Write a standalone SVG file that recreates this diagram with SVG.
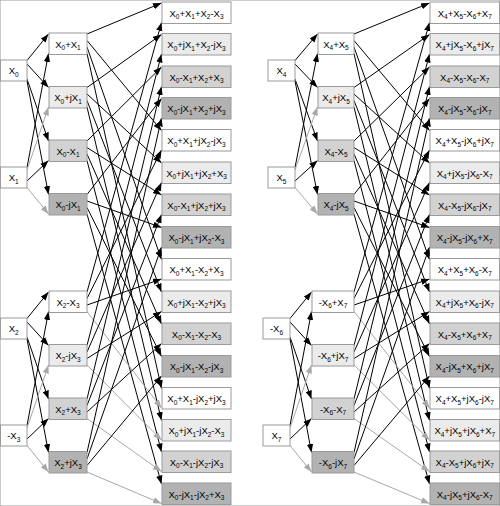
<svg xmlns="http://www.w3.org/2000/svg" width="500" height="506" viewBox="0 0 500 506">
<style>
text{font-family:"Liberation Sans",Arial,sans-serif;font-size:9.5px;fill:#000;text-anchor:middle}
.s{font-size:6.5px}
rect{stroke:#9a9a9a;stroke-width:1}
.w{fill:#fff}.l{fill:#ebebeb}.m{fill:#d2d2d2}.d{fill:#b2b2b2}
.a{stroke:#000;stroke-width:1;marker-end:url(#ab)}
.g{stroke:#a8a8a8;stroke-width:1;marker-end:url(#ag)}
</style>
<defs>
<marker id="ab" markerUnits="userSpaceOnUse" markerWidth="9" markerHeight="7" refX="8.5" refY="3.5" orient="auto"><path d="M0,0.3 L8.5,3.5 L0,6.7 z" fill="#000"/></marker>
<marker id="ag" markerUnits="userSpaceOnUse" markerWidth="9" markerHeight="7" refX="8.5" refY="3.5" orient="auto"><path d="M0,0.3 L8.5,3.5 L0,6.7 z" fill="#a8a8a8"/></marker>
</defs>
<rect x="0" y="0" width="500" height="506" fill="#fff" stroke="none"/>
<g id="connectors">
<line class="a" x1="27" y1="60.5" x2="48.5" y2="34"/>
<line class="a" x1="27" y1="64" x2="48.5" y2="87.5"/>
<line class="a" x1="27" y1="79" x2="48.5" y2="141"/>
<line class="a" x1="27" y1="81" x2="48.5" y2="194.5"/>
<line class="a" x1="27" y1="167.5" x2="48.5" y2="53.5"/>
<line class="g" x1="27" y1="170" x2="48.5" y2="107"/>
<line class="a" x1="27" y1="181" x2="48.5" y2="160.5"/>
<line class="g" x1="27" y1="187.5" x2="48.5" y2="214"/>
<line class="a" x1="27" y1="318.5" x2="48.5" y2="292"/>
<line class="a" x1="27" y1="322" x2="48.5" y2="345.5"/>
<line class="a" x1="27" y1="337" x2="48.5" y2="399"/>
<line class="a" x1="27" y1="339" x2="48.5" y2="452.5"/>
<line class="a" x1="27" y1="425.5" x2="48.5" y2="311.5"/>
<line class="g" x1="27" y1="428" x2="48.5" y2="365"/>
<line class="a" x1="27" y1="439" x2="48.5" y2="418.5"/>
<line class="g" x1="27" y1="445.5" x2="48.5" y2="472"/>
<line class="a" x1="87" y1="34" x2="161.5" y2="3"/>
<line class="a" x1="87" y1="40.5" x2="161.5" y2="130.5"/>
<line class="a" x1="87" y1="47" x2="161.5" y2="259.5"/>
<line class="a" x1="87" y1="53.5" x2="161.5" y2="388.5"/>
<line class="a" x1="87" y1="87.5" x2="161.5" y2="34.5"/>
<line class="a" x1="87" y1="94" x2="161.5" y2="163"/>
<line class="a" x1="87" y1="100.5" x2="161.5" y2="292"/>
<line class="a" x1="87" y1="107" x2="161.5" y2="420.5"/>
<line class="a" x1="87" y1="141" x2="161.5" y2="67"/>
<line class="a" x1="87" y1="147.5" x2="161.5" y2="195"/>
<line class="a" x1="87" y1="154" x2="161.5" y2="324"/>
<line class="a" x1="87" y1="160.5" x2="161.5" y2="452"/>
<line class="a" x1="87" y1="194.5" x2="161.5" y2="98.5"/>
<line class="a" x1="87" y1="201" x2="161.5" y2="227.5"/>
<line class="a" x1="87" y1="207.5" x2="161.5" y2="356.5"/>
<line class="a" x1="87" y1="214" x2="161.5" y2="484"/>
<line class="a" x1="87" y1="292" x2="161.5" y2="22.5"/>
<line class="a" x1="87" y1="298.5" x2="161.5" y2="150"/>
<line class="a" x1="87" y1="305" x2="161.5" y2="279"/>
<line class="g" x1="87" y1="311.5" x2="161.5" y2="408"/>
<line class="a" x1="87" y1="345.5" x2="161.5" y2="54"/>
<line class="a" x1="87" y1="352" x2="161.5" y2="182.5"/>
<line class="a" x1="87" y1="358.5" x2="161.5" y2="311.5"/>
<line class="g" x1="87" y1="365" x2="161.5" y2="440"/>
<line class="a" x1="87" y1="399" x2="161.5" y2="86.5"/>
<line class="a" x1="87" y1="405.5" x2="161.5" y2="214.5"/>
<line class="a" x1="87" y1="412" x2="161.5" y2="343.5"/>
<line class="g" x1="87" y1="418.5" x2="161.5" y2="471.5"/>
<line class="a" x1="87" y1="452.5" x2="161.5" y2="118"/>
<line class="a" x1="87" y1="459" x2="161.5" y2="247"/>
<line class="a" x1="87" y1="465.5" x2="161.5" y2="376"/>
<line class="g" x1="87" y1="472" x2="161.5" y2="503.5"/>
<line class="a" x1="295" y1="60.5" x2="317.5" y2="34"/>
<line class="a" x1="295" y1="64" x2="317.5" y2="87.5"/>
<line class="a" x1="295" y1="79" x2="317.5" y2="141"/>
<line class="a" x1="295" y1="81" x2="317.5" y2="194.5"/>
<line class="a" x1="295" y1="167.5" x2="317.5" y2="53.5"/>
<line class="g" x1="295" y1="170" x2="317.5" y2="107"/>
<line class="a" x1="295" y1="181" x2="317.5" y2="160.5"/>
<line class="g" x1="295" y1="187.5" x2="317.5" y2="214"/>
<line class="a" x1="290" y1="318.5" x2="311.5" y2="292"/>
<line class="a" x1="290" y1="322" x2="311.5" y2="345.5"/>
<line class="a" x1="290" y1="337" x2="311.5" y2="399"/>
<line class="a" x1="290" y1="339" x2="311.5" y2="452.5"/>
<line class="a" x1="290" y1="425.5" x2="311.5" y2="311.5"/>
<line class="g" x1="290" y1="428" x2="311.5" y2="365"/>
<line class="a" x1="290" y1="439" x2="311.5" y2="418.5"/>
<line class="g" x1="290" y1="445.5" x2="311.5" y2="472"/>
<line class="a" x1="354" y1="34" x2="429.5" y2="3"/>
<line class="a" x1="354" y1="40.5" x2="429.5" y2="130.5"/>
<line class="a" x1="354" y1="47" x2="429.5" y2="259.5"/>
<line class="a" x1="354" y1="53.5" x2="429.5" y2="388.5"/>
<line class="a" x1="354" y1="87.5" x2="429.5" y2="34.5"/>
<line class="a" x1="354" y1="94" x2="429.5" y2="163"/>
<line class="a" x1="354" y1="100.5" x2="429.5" y2="292"/>
<line class="a" x1="354" y1="107" x2="429.5" y2="420.5"/>
<line class="a" x1="354" y1="141" x2="429.5" y2="67"/>
<line class="a" x1="354" y1="147.5" x2="429.5" y2="195"/>
<line class="a" x1="354" y1="154" x2="429.5" y2="324"/>
<line class="a" x1="354" y1="160.5" x2="429.5" y2="452"/>
<line class="a" x1="354" y1="194.5" x2="429.5" y2="98.5"/>
<line class="a" x1="354" y1="201" x2="429.5" y2="227.5"/>
<line class="a" x1="354" y1="207.5" x2="429.5" y2="356.5"/>
<line class="a" x1="354" y1="214" x2="429.5" y2="484"/>
<line class="a" x1="354" y1="292" x2="429.5" y2="22.5"/>
<line class="a" x1="354" y1="298.5" x2="429.5" y2="150"/>
<line class="a" x1="354" y1="305" x2="429.5" y2="279"/>
<line class="g" x1="354" y1="311.5" x2="429.5" y2="408"/>
<line class="a" x1="354" y1="345.5" x2="429.5" y2="54"/>
<line class="a" x1="354" y1="352" x2="429.5" y2="182.5"/>
<line class="a" x1="354" y1="358.5" x2="429.5" y2="311.5"/>
<line class="g" x1="354" y1="365" x2="429.5" y2="440"/>
<line class="a" x1="354" y1="399" x2="429.5" y2="86.5"/>
<line class="a" x1="354" y1="405.5" x2="429.5" y2="214.5"/>
<line class="a" x1="354" y1="412" x2="429.5" y2="343.5"/>
<line class="g" x1="354" y1="418.5" x2="429.5" y2="471.5"/>
<line class="a" x1="354" y1="452.5" x2="429.5" y2="118"/>
<line class="a" x1="354" y1="459" x2="429.5" y2="247"/>
<line class="a" x1="354" y1="465.5" x2="429.5" y2="376"/>
<line class="g" x1="354" y1="472" x2="429.5" y2="503.5"/>
</g>
<!-- left inputs -->
<g id="in0"><rect class="w" x="0.5" y="60" width="26.5" height="21"/><text x="13.75" y="74">X<tspan class="s" dy="2.5">0</tspan></text></g>
<g id="in1"><rect class="w" x="0.5" y="167" width="26.5" height="21"/><text x="13.75" y="181">X<tspan class="s" dy="2.5">1</tspan></text></g>
<g id="in2"><rect class="w" x="0.5" y="318" width="26.5" height="21"/><text x="13.75" y="332">X<tspan class="s" dy="2.5">2</tspan></text></g>
<g id="in3"><rect class="w" x="0.5" y="425" width="26.5" height="21"/><text x="13.75" y="439">-X<tspan class="s" dy="2.5">3</tspan></text></g>
<!-- left middle -->
<g id="m0"><rect class="w" x="49" y="33" width="38" height="21.5"/><text x="68" y="47.5">X<tspan class="s" dy="2.5">0</tspan><tspan dy="-2.5">+X</tspan><tspan class="s" dy="2.5">1</tspan></text></g>
<g id="m1"><rect class="l" x="49" y="86.5" width="38" height="21.5"/><text x="68" y="101">X<tspan class="s" dy="2.5">0</tspan><tspan dy="-2.5">+jX</tspan><tspan class="s" dy="2.5">1</tspan></text></g>
<g id="m2"><rect class="m" x="49" y="140" width="38" height="21.5"/><text x="68" y="154.5">X<tspan class="s" dy="2.5">0</tspan><tspan dy="-2.5">-X</tspan><tspan class="s" dy="2.5">1</tspan></text></g>
<g id="m3"><rect class="d" x="49" y="193.5" width="38" height="21.5"/><text x="68" y="208">X<tspan class="s" dy="2.5">0</tspan><tspan dy="-2.5">-jX</tspan><tspan class="s" dy="2.5">1</tspan></text></g>
<g id="m4"><rect class="w" x="49" y="291" width="38" height="21.5"/><text x="68" y="305.5">X<tspan class="s" dy="2.5">2</tspan><tspan dy="-2.5">-X</tspan><tspan class="s" dy="2.5">3</tspan></text></g>
<g id="m5"><rect class="l" x="49" y="344.5" width="38" height="21.5"/><text x="68" y="359">X<tspan class="s" dy="2.5">2</tspan><tspan dy="-2.5">-jX</tspan><tspan class="s" dy="2.5">3</tspan></text></g>
<g id="m6"><rect class="m" x="49" y="398" width="38" height="21.5"/><text x="68" y="412.5">X<tspan class="s" dy="2.5">2</tspan><tspan dy="-2.5">+X</tspan><tspan class="s" dy="2.5">3</tspan></text></g>
<g id="m7"><rect class="d" x="49" y="451.5" width="38" height="21.5"/><text x="68" y="466">X<tspan class="s" dy="2.5">2</tspan><tspan dy="-2.5">+jX</tspan><tspan class="s" dy="2.5">3</tspan></text></g>
<!-- left outputs -->
<g id="o0"><rect class="w" x="162" y="2" width="69" height="21.5"/><text x="196.5" y="16.5">X<tspan class="s" dy="2.5">0</tspan><tspan dy="-2.5">+X</tspan><tspan class="s" dy="2.5">1</tspan><tspan dy="-2.5">+X</tspan><tspan class="s" dy="2.5">2</tspan><tspan dy="-2.5">-X</tspan><tspan class="s" dy="2.5">3</tspan></text></g>
<g id="o1"><rect class="l" x="162" y="33.5" width="69" height="21.5"/><text x="196.5" y="48">X<tspan class="s" dy="2.5">0</tspan><tspan dy="-2.5">+jX</tspan><tspan class="s" dy="2.5">1</tspan><tspan dy="-2.5">+X</tspan><tspan class="s" dy="2.5">2</tspan><tspan dy="-2.5">-jX</tspan><tspan class="s" dy="2.5">3</tspan></text></g>
<g id="o2"><rect class="m" x="162" y="66" width="69" height="21.5"/><text x="196.5" y="80.5">X<tspan class="s" dy="2.5">0</tspan><tspan dy="-2.5">-X</tspan><tspan class="s" dy="2.5">1</tspan><tspan dy="-2.5">+X</tspan><tspan class="s" dy="2.5">2</tspan><tspan dy="-2.5">+X</tspan><tspan class="s" dy="2.5">3</tspan></text></g>
<g id="o3"><rect class="d" x="162" y="97.5" width="69" height="21.5"/><text x="196.5" y="112">X<tspan class="s" dy="2.5">0</tspan><tspan dy="-2.5">-jX</tspan><tspan class="s" dy="2.5">1</tspan><tspan dy="-2.5">+X</tspan><tspan class="s" dy="2.5">2</tspan><tspan dy="-2.5">+jX</tspan><tspan class="s" dy="2.5">3</tspan></text></g>
<g id="o4"><rect class="w" x="162" y="129.5" width="69" height="21.5"/><text x="196.5" y="144">X<tspan class="s" dy="2.5">0</tspan><tspan dy="-2.5">+X</tspan><tspan class="s" dy="2.5">1</tspan><tspan dy="-2.5">+jX</tspan><tspan class="s" dy="2.5">2</tspan><tspan dy="-2.5">-jX</tspan><tspan class="s" dy="2.5">3</tspan></text></g>
<g id="o5"><rect class="l" x="162" y="162" width="69" height="21.5"/><text x="196.5" y="176.5">X<tspan class="s" dy="2.5">0</tspan><tspan dy="-2.5">+jX</tspan><tspan class="s" dy="2.5">1</tspan><tspan dy="-2.5">+jX</tspan><tspan class="s" dy="2.5">2</tspan><tspan dy="-2.5">+X</tspan><tspan class="s" dy="2.5">3</tspan></text></g>
<g id="o6"><rect class="m" x="162" y="194" width="69" height="21.5"/><text x="196.5" y="208.5">X<tspan class="s" dy="2.5">0</tspan><tspan dy="-2.5">-X</tspan><tspan class="s" dy="2.5">1</tspan><tspan dy="-2.5">+jX</tspan><tspan class="s" dy="2.5">2</tspan><tspan dy="-2.5">+jX</tspan><tspan class="s" dy="2.5">3</tspan></text></g>
<g id="o7"><rect class="d" x="162" y="226.5" width="69" height="21.5"/><text x="196.5" y="241">X<tspan class="s" dy="2.5">0</tspan><tspan dy="-2.5">-jX</tspan><tspan class="s" dy="2.5">1</tspan><tspan dy="-2.5">+jX</tspan><tspan class="s" dy="2.5">2</tspan><tspan dy="-2.5">-X</tspan><tspan class="s" dy="2.5">3</tspan></text></g>
<g id="o8"><rect class="w" x="162" y="258.5" width="69" height="21.5"/><text x="196.5" y="273">X<tspan class="s" dy="2.5">0</tspan><tspan dy="-2.5">+X</tspan><tspan class="s" dy="2.5">1</tspan><tspan dy="-2.5">-X</tspan><tspan class="s" dy="2.5">2</tspan><tspan dy="-2.5">+X</tspan><tspan class="s" dy="2.5">3</tspan></text></g>
<g id="o9"><rect class="l" x="162" y="291" width="69" height="21.5"/><text x="196.5" y="305.5">X<tspan class="s" dy="2.5">0</tspan><tspan dy="-2.5">+jX</tspan><tspan class="s" dy="2.5">1</tspan><tspan dy="-2.5">-X</tspan><tspan class="s" dy="2.5">2</tspan><tspan dy="-2.5">+jX</tspan><tspan class="s" dy="2.5">3</tspan></text></g>
<g id="o10"><rect class="m" x="162" y="323" width="69" height="21.5"/><text x="196.5" y="337.5">X<tspan class="s" dy="2.5">0</tspan><tspan dy="-2.5">-X</tspan><tspan class="s" dy="2.5">1</tspan><tspan dy="-2.5">-X</tspan><tspan class="s" dy="2.5">2</tspan><tspan dy="-2.5">-X</tspan><tspan class="s" dy="2.5">3</tspan></text></g>
<g id="o11"><rect class="d" x="162" y="355.5" width="69" height="21.5"/><text x="196.5" y="370">X<tspan class="s" dy="2.5">0</tspan><tspan dy="-2.5">-jX</tspan><tspan class="s" dy="2.5">1</tspan><tspan dy="-2.5">-X</tspan><tspan class="s" dy="2.5">2</tspan><tspan dy="-2.5">-jX</tspan><tspan class="s" dy="2.5">3</tspan></text></g>
<g id="o12"><rect class="w" x="162" y="387.5" width="69" height="21.5"/><text x="196.5" y="402">X<tspan class="s" dy="2.5">0</tspan><tspan dy="-2.5">+X</tspan><tspan class="s" dy="2.5">1</tspan><tspan dy="-2.5">-jX</tspan><tspan class="s" dy="2.5">2</tspan><tspan dy="-2.5">+jX</tspan><tspan class="s" dy="2.5">3</tspan></text></g>
<g id="o13"><rect class="l" x="162" y="419.5" width="69" height="21.5"/><text x="196.5" y="434">X<tspan class="s" dy="2.5">0</tspan><tspan dy="-2.5">+jX</tspan><tspan class="s" dy="2.5">1</tspan><tspan dy="-2.5">-jX</tspan><tspan class="s" dy="2.5">2</tspan><tspan dy="-2.5">-X</tspan><tspan class="s" dy="2.5">3</tspan></text></g>
<g id="o14"><rect class="m" x="162" y="451" width="69" height="21.5"/><text x="196.5" y="465.5">X<tspan class="s" dy="2.5">0</tspan><tspan dy="-2.5">-X</tspan><tspan class="s" dy="2.5">1</tspan><tspan dy="-2.5">-jX</tspan><tspan class="s" dy="2.5">2</tspan><tspan dy="-2.5">-jX</tspan><tspan class="s" dy="2.5">3</tspan></text></g>
<g id="o15"><rect class="d" x="162" y="483" width="69" height="21.5"/><text x="196.5" y="497.5">X<tspan class="s" dy="2.5">0</tspan><tspan dy="-2.5">-jX</tspan><tspan class="s" dy="2.5">1</tspan><tspan dy="-2.5">-jX</tspan><tspan class="s" dy="2.5">2</tspan><tspan dy="-2.5">+X</tspan><tspan class="s" dy="2.5">3</tspan></text></g>
<!-- right inputs -->
<g id="in4"><rect class="w" x="268" y="60" width="27" height="21"/><text x="281.5" y="74">X<tspan class="s" dy="2.5">4</tspan></text></g>
<g id="in5"><rect class="w" x="268" y="167" width="27" height="21"/><text x="281.5" y="181">X<tspan class="s" dy="2.5">5</tspan></text></g>
<g id="in6"><rect class="w" x="263" y="318" width="27" height="21"/><text x="276.5" y="332">-X<tspan class="s" dy="2.5">6</tspan></text></g>
<g id="in7"><rect class="w" x="263" y="425" width="27" height="21"/><text x="276.5" y="439">X<tspan class="s" dy="2.5">7</tspan></text></g>
<!-- right middle -->
<g id="m8"><rect class="w" x="318" y="33" width="36" height="21.5"/><text x="336" y="47.5">X<tspan class="s" dy="2.5">4</tspan><tspan dy="-2.5">+X</tspan><tspan class="s" dy="2.5">5</tspan></text></g>
<g id="m9"><rect class="l" x="318" y="86.5" width="36" height="21.5"/><text x="336" y="101">X<tspan class="s" dy="2.5">4</tspan><tspan dy="-2.5">+jX</tspan><tspan class="s" dy="2.5">5</tspan></text></g>
<g id="m10"><rect class="m" x="318" y="140" width="36" height="21.5"/><text x="336" y="154.5">X<tspan class="s" dy="2.5">4</tspan><tspan dy="-2.5">-X</tspan><tspan class="s" dy="2.5">5</tspan></text></g>
<g id="m11"><rect class="d" x="318" y="193.5" width="36" height="21.5"/><text x="336" y="208">X<tspan class="s" dy="2.5">4</tspan><tspan dy="-2.5">-jX</tspan><tspan class="s" dy="2.5">5</tspan></text></g>
<g id="m12"><rect class="w" x="312" y="291" width="42" height="21.5"/><text x="333" y="305.5">-X<tspan class="s" dy="2.5">6</tspan><tspan dy="-2.5">+X</tspan><tspan class="s" dy="2.5">7</tspan></text></g>
<g id="m13"><rect class="l" x="312" y="344.5" width="42" height="21.5"/><text x="333" y="359">-X<tspan class="s" dy="2.5">6</tspan><tspan dy="-2.5">+jX</tspan><tspan class="s" dy="2.5">7</tspan></text></g>
<g id="m14"><rect class="m" x="312" y="398" width="42" height="21.5"/><text x="333" y="412.5">-X<tspan class="s" dy="2.5">6</tspan><tspan dy="-2.5">-X</tspan><tspan class="s" dy="2.5">7</tspan></text></g>
<g id="m15"><rect class="d" x="312" y="451.5" width="42" height="21.5"/><text x="333" y="466">-X<tspan class="s" dy="2.5">6</tspan><tspan dy="-2.5">-jX</tspan><tspan class="s" dy="2.5">7</tspan></text></g>
<!-- right outputs -->
<g id="o16"><rect class="w" x="430" y="2" width="69.5" height="21.5"/><text x="464.75" y="16.5">X<tspan class="s" dy="2.5">4</tspan><tspan dy="-2.5">+X</tspan><tspan class="s" dy="2.5">5</tspan><tspan dy="-2.5">-X</tspan><tspan class="s" dy="2.5">6</tspan><tspan dy="-2.5">+X</tspan><tspan class="s" dy="2.5">7</tspan></text></g>
<g id="o17"><rect class="l" x="430" y="33.5" width="69.5" height="21.5"/><text x="464.75" y="48">X<tspan class="s" dy="2.5">4</tspan><tspan dy="-2.5">+jX</tspan><tspan class="s" dy="2.5">5</tspan><tspan dy="-2.5">-X</tspan><tspan class="s" dy="2.5">6</tspan><tspan dy="-2.5">+jX</tspan><tspan class="s" dy="2.5">7</tspan></text></g>
<g id="o18"><rect class="m" x="430" y="66" width="69.5" height="21.5"/><text x="464.75" y="80.5">X<tspan class="s" dy="2.5">4</tspan><tspan dy="-2.5">-X</tspan><tspan class="s" dy="2.5">5</tspan><tspan dy="-2.5">-X</tspan><tspan class="s" dy="2.5">6</tspan><tspan dy="-2.5">-X</tspan><tspan class="s" dy="2.5">7</tspan></text></g>
<g id="o19"><rect class="d" x="430" y="97.5" width="69.5" height="21.5"/><text x="464.75" y="112">X<tspan class="s" dy="2.5">4</tspan><tspan dy="-2.5">-jX</tspan><tspan class="s" dy="2.5">5</tspan><tspan dy="-2.5">-X</tspan><tspan class="s" dy="2.5">6</tspan><tspan dy="-2.5">-jX</tspan><tspan class="s" dy="2.5">7</tspan></text></g>
<g id="o20"><rect class="w" x="430" y="129.5" width="69.5" height="21.5"/><text x="464.75" y="144">X<tspan class="s" dy="2.5">4</tspan><tspan dy="-2.5">+X</tspan><tspan class="s" dy="2.5">5</tspan><tspan dy="-2.5">-jX</tspan><tspan class="s" dy="2.5">6</tspan><tspan dy="-2.5">+jX</tspan><tspan class="s" dy="2.5">7</tspan></text></g>
<g id="o21"><rect class="l" x="430" y="162" width="69.5" height="21.5"/><text x="464.75" y="176.5">X<tspan class="s" dy="2.5">4</tspan><tspan dy="-2.5">+jX</tspan><tspan class="s" dy="2.5">5</tspan><tspan dy="-2.5">-jX</tspan><tspan class="s" dy="2.5">6</tspan><tspan dy="-2.5">-X</tspan><tspan class="s" dy="2.5">7</tspan></text></g>
<g id="o22"><rect class="m" x="430" y="194" width="69.5" height="21.5"/><text x="464.75" y="208.5">X<tspan class="s" dy="2.5">4</tspan><tspan dy="-2.5">-X</tspan><tspan class="s" dy="2.5">5</tspan><tspan dy="-2.5">-jX</tspan><tspan class="s" dy="2.5">6</tspan><tspan dy="-2.5">-jX</tspan><tspan class="s" dy="2.5">7</tspan></text></g>
<g id="o23"><rect class="d" x="430" y="226.5" width="69.5" height="21.5"/><text x="464.75" y="241">X<tspan class="s" dy="2.5">4</tspan><tspan dy="-2.5">-jX</tspan><tspan class="s" dy="2.5">5</tspan><tspan dy="-2.5">-jX</tspan><tspan class="s" dy="2.5">6</tspan><tspan dy="-2.5">+X</tspan><tspan class="s" dy="2.5">7</tspan></text></g>
<g id="o24"><rect class="w" x="430" y="258.5" width="69.5" height="21.5"/><text x="464.75" y="273">X<tspan class="s" dy="2.5">4</tspan><tspan dy="-2.5">+X</tspan><tspan class="s" dy="2.5">5</tspan><tspan dy="-2.5">+X</tspan><tspan class="s" dy="2.5">6</tspan><tspan dy="-2.5">-X</tspan><tspan class="s" dy="2.5">7</tspan></text></g>
<g id="o25"><rect class="l" x="430" y="291" width="69.5" height="21.5"/><text x="464.75" y="305.5">X<tspan class="s" dy="2.5">4</tspan><tspan dy="-2.5">+jX</tspan><tspan class="s" dy="2.5">5</tspan><tspan dy="-2.5">+X</tspan><tspan class="s" dy="2.5">6</tspan><tspan dy="-2.5">-jX</tspan><tspan class="s" dy="2.5">7</tspan></text></g>
<g id="o26"><rect class="m" x="430" y="323" width="69.5" height="21.5"/><text x="464.75" y="337.5">X<tspan class="s" dy="2.5">4</tspan><tspan dy="-2.5">-X</tspan><tspan class="s" dy="2.5">5</tspan><tspan dy="-2.5">+X</tspan><tspan class="s" dy="2.5">6</tspan><tspan dy="-2.5">+X</tspan><tspan class="s" dy="2.5">7</tspan></text></g>
<g id="o27"><rect class="d" x="430" y="355.5" width="69.5" height="21.5"/><text x="464.75" y="370">X<tspan class="s" dy="2.5">4</tspan><tspan dy="-2.5">-jX</tspan><tspan class="s" dy="2.5">5</tspan><tspan dy="-2.5">+X</tspan><tspan class="s" dy="2.5">6</tspan><tspan dy="-2.5">+jX</tspan><tspan class="s" dy="2.5">7</tspan></text></g>
<g id="o28"><rect class="w" x="430" y="387.5" width="69.5" height="21.5"/><text x="464.75" y="402">X<tspan class="s" dy="2.5">4</tspan><tspan dy="-2.5">+X</tspan><tspan class="s" dy="2.5">5</tspan><tspan dy="-2.5">+jX</tspan><tspan class="s" dy="2.5">6</tspan><tspan dy="-2.5">-jX</tspan><tspan class="s" dy="2.5">7</tspan></text></g>
<g id="o29"><rect class="l" x="430" y="419.5" width="69.5" height="21.5"/><text x="464.75" y="434">X<tspan class="s" dy="2.5">4</tspan><tspan dy="-2.5">+jX</tspan><tspan class="s" dy="2.5">5</tspan><tspan dy="-2.5">+jX</tspan><tspan class="s" dy="2.5">6</tspan><tspan dy="-2.5">+X</tspan><tspan class="s" dy="2.5">7</tspan></text></g>
<g id="o30"><rect class="m" x="430" y="451" width="69.5" height="21.5"/><text x="464.75" y="465.5">X<tspan class="s" dy="2.5">4</tspan><tspan dy="-2.5">-X</tspan><tspan class="s" dy="2.5">5</tspan><tspan dy="-2.5">+jX</tspan><tspan class="s" dy="2.5">6</tspan><tspan dy="-2.5">+jX</tspan><tspan class="s" dy="2.5">7</tspan></text></g>
<g id="o31"><rect class="d" x="430" y="483" width="69.5" height="21.5"/><text x="464.75" y="497.5">X<tspan class="s" dy="2.5">4</tspan><tspan dy="-2.5">-jX</tspan><tspan class="s" dy="2.5">5</tspan><tspan dy="-2.5">+jX</tspan><tspan class="s" dy="2.5">6</tspan><tspan dy="-2.5">-X</tspan><tspan class="s" dy="2.5">7</tspan></text></g>
</svg>
